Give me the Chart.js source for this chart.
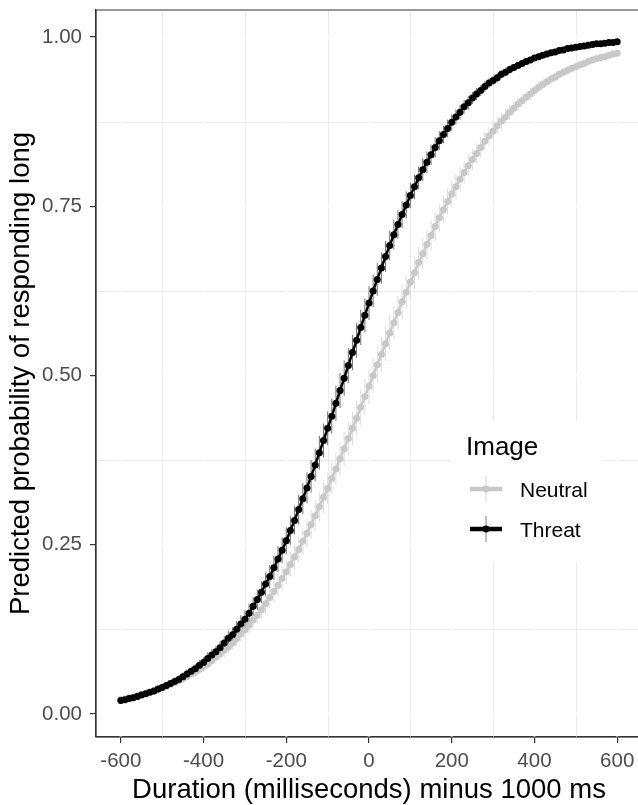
<!DOCTYPE html>
<html>
<head>
<meta charset="utf-8">
<script src="https://cdn.jsdelivr.net/npm/chart.js"></script>
<style>
  html, body { margin: 0; padding: 0; background: #fff; overflow: hidden; }
  #wrap { width: 638px; height: 805px; overflow: hidden; position: relative; }
  #chart { position: absolute; left: 0; top: 0; }
</style>
</head>
<body>
<div id="wrap"><canvas id="chart" width="646" height="805"></canvas></div>
<script>
// durée (ms) moins 1000 ms
const durations = [
  -600,-590,-580,-570,-560,-550,-540,-530,-520,-510,
  -500,-490,-480,-470,-460,-450,-440,-430,-420,-410,
  -400,-390,-380,-370,-360,-350,-340,-330,-320,-310,
  -300,-290,-280,-270,-260,-250,-240,-230,-220,-210,
  -200,-190,-180,-170,-160,-150,-140,-130,-120,-110,
  -100,-90,-80,-70,-60,-50,-40,-30,-20,-10,
  0,10,20,30,40,50,60,70,80,90,
  100,110,120,130,140,150,160,170,180,190,
  200,210,220,230,240,250,260,270,280,290,
  300,310,320,330,340,350,360,370,380,390,
  400,410,420,430,440,450,460,470,480,490,
  500,510,520,530,540,550,560,570,580,590,
  600
];

const neutralProb = [
  0.021,0.022,0.024,0.025,0.027,0.029,0.030,0.032,0.034,0.036,
  0.039,0.041,0.044,0.046,0.049,0.052,0.055,0.059,0.062,0.066,
  0.070,0.074,0.079,0.084,0.089,0.094,0.099,0.105,0.111,0.118,
  0.124,0.131,0.139,0.146,0.154,0.163,0.172,0.181,0.190,0.200,
  0.210,0.221,0.232,0.243,0.255,0.267,0.280,0.293,0.306,0.320,
  0.333,0.348,0.362,0.377,0.392,0.407,0.422,0.437,0.453,0.469,
  0.484,0.500,0.516,0.531,0.547,0.563,0.578,0.593,0.609,0.623,
  0.638,0.652,0.667,0.680,0.694,0.707,0.720,0.733,0.745,0.757,
  0.768,0.779,0.790,0.800,0.810,0.819,0.828,0.837,0.846,0.854,
  0.861,0.869,0.876,0.882,0.889,0.895,0.901,0.906,0.911,0.916,
  0.921,0.926,0.930,0.934,0.938,0.941,0.945,0.948,0.951,0.954,
  0.956,0.959,0.961,0.964,0.966,0.968,0.970,0.971,0.973,0.975,
  0.976
];

const neutralErr = [
  0.003,0.003,0.003,0.003,0.004,0.004,0.004,0.004,0.004,0.004,
  0.005,0.005,0.005,0.005,0.006,0.006,0.006,0.007,0.007,0.007,
  0.008,0.008,0.008,0.009,0.009,0.010,0.010,0.010,0.011,0.011,
  0.012,0.012,0.013,0.013,0.014,0.015,0.015,0.016,0.016,0.017,
  0.018,0.018,0.019,0.019,0.020,0.021,0.021,0.022,0.022,0.023,
  0.023,0.024,0.024,0.024,0.025,0.025,0.025,0.026,0.026,0.026,
  0.026,0.026,0.026,0.026,0.026,0.026,0.025,0.025,0.025,0.024,
  0.024,0.024,0.023,0.023,0.022,0.022,0.021,0.021,0.020,0.019,
  0.019,0.018,0.018,0.017,0.016,0.016,0.015,0.015,0.014,0.013,
  0.013,0.012,0.012,0.011,0.011,0.010,0.010,0.010,0.009,0.009,
  0.008,0.008,0.008,0.007,0.007,0.007,0.006,0.006,0.006,0.005,
  0.005,0.005,0.005,0.004,0.004,0.004,0.004,0.004,0.004,0.003,
  0.003
];

const threatProb = [
  0.020,0.021,0.023,0.024,0.026,0.028,0.030,0.032,0.034,0.037,
  0.039,0.042,0.045,0.048,0.051,0.055,0.059,0.063,0.067,0.072,
  0.076,0.082,0.087,0.092,0.098,0.105,0.112,0.117,0.125,0.133,
  0.140,0.149,0.159,0.169,0.180,0.192,0.203,0.216,0.229,0.242,
  0.256,0.271,0.286,0.302,0.318,0.334,0.351,0.368,0.386,0.404,
  0.422,0.440,0.459,0.478,0.496,0.515,0.534,0.552,0.571,0.589,
  0.607,0.625,0.642,0.659,0.676,0.692,0.708,0.723,0.738,0.752,
  0.766,0.779,0.792,0.804,0.815,0.826,0.837,0.847,0.856,0.865,
  0.874,0.882,0.889,0.897,0.903,0.910,0.916,0.921,0.927,0.932,
  0.936,0.940,0.945,0.948,0.952,0.955,0.958,0.961,0.964,0.966,
  0.969,0.971,0.973,0.975,0.977,0.978,0.980,0.981,0.983,0.984,
  0.985,0.986,0.987,0.988,0.989,0.990,0.990,0.991,0.992,0.992,
  0.993
];

const threatErr = [
  0.003,0.003,0.003,0.003,0.004,0.004,0.004,0.004,0.004,0.005,
  0.005,0.005,0.005,0.006,0.006,0.006,0.007,0.007,0.007,0.008,
  0.008,0.009,0.009,0.009,0.010,0.010,0.011,0.011,0.012,0.013,
  0.013,0.014,0.014,0.015,0.016,0.017,0.017,0.018,0.019,0.019,
  0.020,0.021,0.021,0.022,0.023,0.023,0.024,0.024,0.025,0.025,
  0.025,0.026,0.026,0.026,0.026,0.026,0.026,0.026,0.026,0.025,
  0.025,0.024,0.024,0.023,0.023,0.022,0.022,0.021,0.020,0.020,
  0.019,0.018,0.017,0.017,0.016,0.015,0.015,0.014,0.013,0.013,
  0.012,0.011,0.011,0.010,0.010,0.009,0.009,0.008,0.008,0.007,
  0.007,0.007,0.006,0.006,0.006,0.005,0.005,0.005,0.004,0.004,
  0.004,0.004,0.004,0.003,0.003,0.003,0.003,0.003,0.003,0.003,
  0.002,0.002,0.002,0.002,0.002,0.002,0.002,0.002,0.002,0.002,
  0.002
];

const xTicks = [-600, -400, -200, 0, 200, 400, 600];
const xMinor = [-500, -300, -100, 100, 300, 500];
const yTicks = [0, 0.25, 0.5, 0.75, 1];
const yMinor = [0.125, 0.375, 0.625, 0.875];

const FONT = '"Liberation Sans", Arial, Helvetica, sans-serif';
const NEUTRAL = '#c8c8c8';
const THREAT = '#000000';

function toPoints(probs) {
  return durations.map((d, i) => ({ x: d, y: probs[i] }));
}

// grille façon theme_bw + barres d'erreur
const ggBackground = {
  id: 'ggBackground',
  beforeDatasetsDraw(chart) {
    const { ctx, chartArea: a, scales: { x, y } } = chart;
    ctx.save();
    ctx.beginPath();
    ctx.rect(a.left, a.top, a.right - a.left, a.bottom - a.top);
    ctx.clip();

    ctx.strokeStyle = '#ebebeb';
    ctx.lineWidth = 1;
    xMinor.forEach(v => {
      const px = Math.round(x.getPixelForValue(v)) + 0.5;
      ctx.beginPath(); ctx.moveTo(px, a.top); ctx.lineTo(px, a.bottom); ctx.stroke();
    });
    yMinor.forEach(v => {
      const py = Math.round(y.getPixelForValue(v)) + 0.5;
      ctx.beginPath(); ctx.moveTo(a.left, py); ctx.lineTo(a.right, py); ctx.stroke();
    });

    ctx.strokeStyle = '#ffffff';
    ctx.lineWidth = 2.5;
    xTicks.forEach(v => {
      const px = x.getPixelForValue(v);
      ctx.beginPath(); ctx.moveTo(px, a.top); ctx.lineTo(px, a.bottom); ctx.stroke();
    });
    yTicks.forEach(v => {
      const py = y.getPixelForValue(v);
      ctx.beginPath(); ctx.moveTo(a.left, py); ctx.lineTo(a.right, py); ctx.stroke();
    });

    const bars = (probs, errs, color, width) => {
      ctx.strokeStyle = color;
      ctx.lineWidth = width;
      durations.forEach((d, i) => {
        const px = x.getPixelForValue(d);
        ctx.beginPath();
        ctx.moveTo(px, y.getPixelForValue(probs[i] + errs[i]));
        ctx.lineTo(px, y.getPixelForValue(probs[i] - errs[i]));
        ctx.stroke();
      });
    };
    bars(neutralProb, neutralErr, '#d8d8d8', 0.9);
    bars(threatProb, threatErr, 'rgba(60,60,60,0.9)', 0.8);
    ctx.restore();
  },
  afterDraw(chart) {
    const { ctx, chartArea: a } = chart;
    ctx.save();
    // bordure du panneau (le bord droit sort du cadre)
    ctx.strokeStyle = '#333333';
    ctx.lineWidth = 1.2;
    ctx.beginPath();
    ctx.moveTo(a.left, a.bottom);
    ctx.lineTo(a.left, a.top);
    ctx.lineTo(646, a.top);
    ctx.moveTo(a.left, a.bottom);
    ctx.lineTo(646, a.bottom);
    ctx.stroke();

    // légende
    ctx.fillStyle = '#ffffff';
    ctx.fillRect(450, 421, 152, 141);
    ctx.fillStyle = '#000000';
    ctx.textAlign = 'left';
    ctx.textBaseline = 'alphabetic';
    ctx.font = '26px ' + FONT;
    ctx.fillText('Image', 466, 455);

    const key = (cy, color, barColor, label) => {
      ctx.strokeStyle = barColor;
      ctx.lineWidth = 0.9;
      ctx.beginPath(); ctx.moveTo(486, cy - 13); ctx.lineTo(486, cy + 13); ctx.stroke();
      ctx.strokeStyle = color;
      ctx.lineWidth = 4.5;
      ctx.beginPath(); ctx.moveTo(470, cy); ctx.lineTo(502, cy); ctx.stroke();
      ctx.fillStyle = color;
      ctx.beginPath(); ctx.arc(486, cy, 3.4, 0, Math.PI * 2); ctx.fill();
      ctx.fillStyle = '#000000';
      ctx.font = '21px ' + FONT;
      ctx.fillText(label, 520, cy + 8);
    };
    key(489, NEUTRAL, '#d4d4d4', 'Neutral');
    key(529, THREAT, '#777777', 'Threat');

    // titres des axes
    ctx.fillStyle = '#000000';
    ctx.font = '27.5px ' + FONT;
    ctx.textAlign = 'center';
    ctx.fillText('Duration (milliseconds) minus 1000 ms', 369, 798);
    ctx.save();
    ctx.translate(29, (a.top + a.bottom) / 2);
    ctx.rotate(-Math.PI / 2);
    ctx.fillText('Predicted probability of responding long', 0, 0);
    ctx.restore();
    ctx.restore();
  }
};

new Chart(document.getElementById('chart'), {
  type: 'line',
  data: {
    datasets: [
      {
        label: 'Threat',
        data: toPoints(threatProb),
        borderColor: THREAT,
        backgroundColor: THREAT,
        borderWidth: 2.5,
        pointRadius: 3.5,
        pointBorderWidth: 0,
        pointBackgroundColor: THREAT,
        order: 0
      },
      {
        label: 'Neutral',
        data: toPoints(neutralProb),
        borderColor: NEUTRAL,
        backgroundColor: NEUTRAL,
        borderWidth: 2.5,
        pointRadius: 3.5,
        pointBorderWidth: 0,
        pointBackgroundColor: NEUTRAL,
        order: 1
      }
    ]
  },
  options: {
    responsive: false,
    animation: false,
    devicePixelRatio: 1,
    layout: { padding: { top: 10, right: 4, left: 0, bottom: 0 } },
    plugins: { legend: { display: false }, tooltip: { enabled: false } },
    scales: {
      x: {
        type: 'linear',
        min: -660,
        max: 660,
        afterBuildTicks: s => { s.ticks = xTicks.map(v => ({ value: v })); },
        afterFit: s => { s.height = 68; s.paddingLeft = 0; s.paddingRight = 0; },
        grid: { drawOnChartArea: false, color: '#333333', tickLength: 6, lineWidth: 1.2 },
        border: { color: '#333333', width: 1.2 },
        ticks: {
          color: '#4d4d4d',
          font: { family: FONT, size: 20.5 },
          padding: 6,
          maxRotation: 0,
          callback: v => String(v)
        }
      },
      y: {
        type: 'linear',
        min: -0.034,
        max: 1.04,
        afterBuildTicks: s => { s.ticks = yTicks.map(v => ({ value: v })); },
        afterFit: s => { s.width = 96; s.paddingTop = 0; s.paddingBottom = 0; },
        grid: { drawOnChartArea: false, color: '#333333', tickLength: 6, lineWidth: 1.2 },
        border: { color: '#333333', width: 1.2 },
        ticks: {
          color: '#4d4d4d',
          font: { family: FONT, size: 20.5 },
          padding: 8,
          callback: v => v.toFixed(2)
        }
      }
    }
  },
  plugins: [ggBackground]
});
</script>
</body>
</html>
